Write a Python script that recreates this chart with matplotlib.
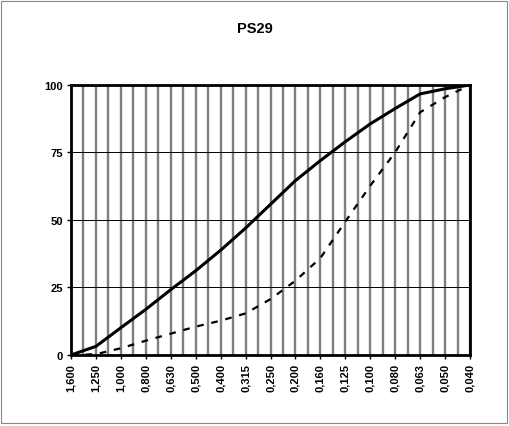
#!/usr/bin/env python

import numpy as np
import matplotlib
matplotlib.use('Agg')
from matplotlib import pyplot as plt
from matplotlib import patches as mpatches

# sieve sizes (mm) and cumulative passing (%)
sizes = ['1,600', '1,250', '1,000', '0,800', '0,630', '0,500', '0,400',
         '0,315', '0,250', '0,200', '0,160', '0,125', '0,100', '0,080',
         '0,063', '0,050', '0,040']
solid = [0, 3.2, 10.1, 16.9, 24.2, 31.2, 38.8, 47.0, 55.8, 64.6, 72.0,
         79.0, 85.6, 91.3, 96.7, 98.6, 100]
dashed = [0, 0.3, 2.5, 5.3, 7.9, 10.5, 12.7, 15.4, 20.7, 27.5, 35.9,
          49.4, 62.7, 75.1, 89.9, 95.5, 100]


def main():
    plt.rcParams['font.family'] = ['Liberation Sans', 'DejaVu Sans']
    fig = plt.figure(figsize=(5.09, 4.27), dpi=100)
    axe = fig.add_axes([0.1395, 0.1663, 0.7839, 0.6323])
    x = np.arange(len(sizes))

    for xv in np.arange(0, len(sizes) - 0.9, 0.5):
        axe.axvline(xv, color='#7f7f7f', lw=1.7, zorder=1)
    for yv in [25, 50, 75]:
        axe.axhline(yv, color='black', lw=0.7, zorder=1)

    axe.plot(x, solid, color='black', lw=2.2, zorder=3)
    axe.plot(x, dashed, color='black', lw=1.6, ls=(0, (3, 3.5)), zorder=3)

    axe.set_xlim(0, len(sizes) - 1)
    axe.set_ylim(0, 100)
    axe.set_xticks(x)
    axe.set_xticklabels(sizes, rotation=90, fontsize=8, fontweight='bold')
    axe.set_yticks([0, 25, 50, 75, 100])
    axe.set_yticklabels(['0', '25', '50', '75', '100'], fontsize=8,
                        fontweight='bold')
    axe.tick_params(length=3, width=1, pad=3)
    for sp in axe.spines.values():
        sp.set_linewidth(2)
        sp.set_zorder(4)
    fig.text(0.5, 0.931, 'PS29', ha='center', va='center', fontsize=10.5,
             fontweight='bold')
    fig.patches.append(mpatches.Rectangle((0.002, 0.006), 0.994, 0.99,
                       transform=fig.transFigure, fill=False,
                       edgecolor='#888888', lw=0.8))
    plt.savefig('out.png', dpi=100)


if __name__ == '__main__':
    main()
